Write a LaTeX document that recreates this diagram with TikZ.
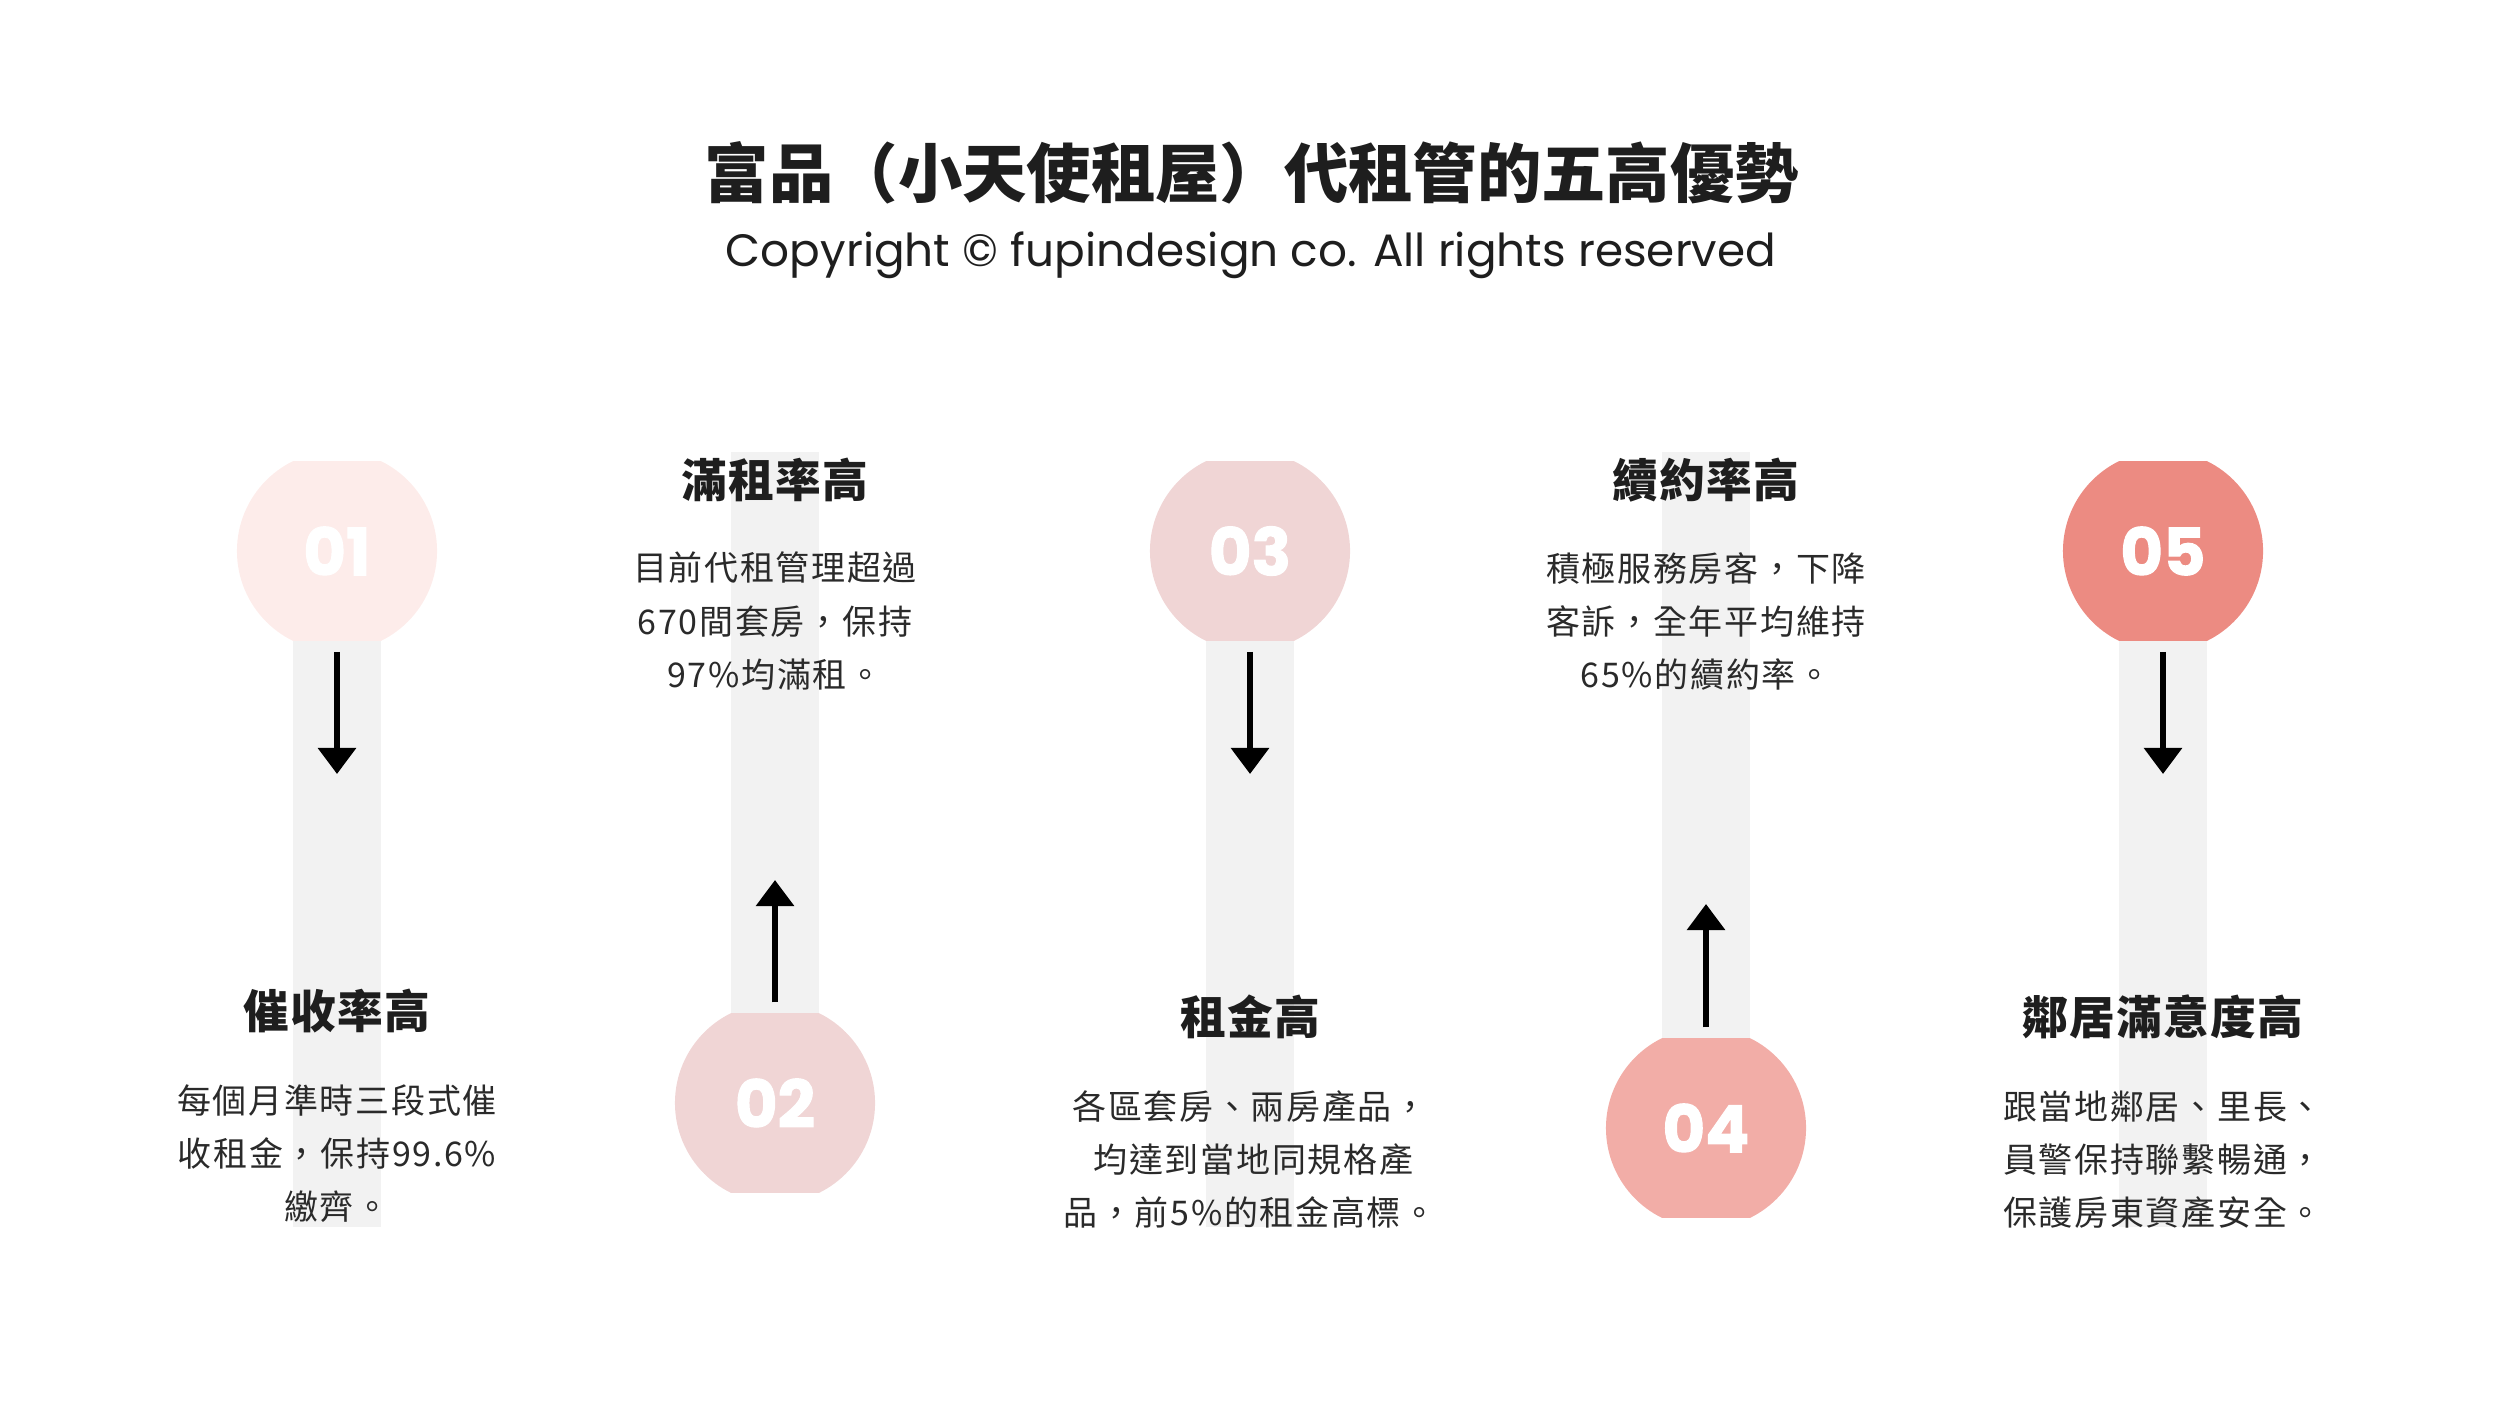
\documentclass[tikz,border=0pt]{standalone}
\usepackage{fontspec}
\setmainfont{Poppins}
\newfontfamily\cjk{Noto Sans CJK TC}
\newfontfamily\numfont{Poppins}[BoldFeatures={FakeBold=1.6}]
\usetikzlibrary{arrows.meta}
\definecolor{bargray}{HTML}{F2F2F2}
\definecolor{ink}{HTML}{1E1E1E}
\definecolor{inktext}{HTML}{2A2A2A}
\definecolor{dotA}{HTML}{FDECEA}
\definecolor{dotB}{HTML}{F0D5D5}
\definecolor{dotC}{HTML}{F0D5D5}
\definecolor{dotD}{HTML}{F2ADA7}
\definecolor{dotE}{HTML}{EC8B82}

\begin{document}
\begin{tikzpicture}[
  x=0.01cm, y=-0.01cm,
  bar/.style={fill=bargray},
  numdot/.style={minimum width=2cm, minimum height=1.78cm, inner sep=0pt,
                 text=white, font=\numfont\bfseries\fontsize{18.6pt}{20pt}\selectfont,
                 path picture={\fill[#1] (path picture bounding box.center) circle (1cm);}},
  head/.style={inner sep=0pt, text=ink,
               font=\cjk\bfseries\fontsize{13pt}{16pt}\selectfont\addfontfeatures{LetterSpace=3}},
  body/.style={inner sep=0pt, align=center, text=inktext,
               font=\cjk\fontsize{9.67pt}{15.08pt}\selectfont\addfontfeatures{LetterSpace=5}},
  flow/.style={-{Triangle[width=0.37cm,length=0.26cm]}, line width=1.7pt, shorten <=0.11cm}
]
\useasboundingbox (0,0) rectangle (2500,1406);

\node[inner sep=0pt, text=ink, font=\cjk\bfseries\fontsize{18.3pt}{22pt}\selectfont] (title) at (1252,173) {富品（小天使租屋）代租管的五高優勢};
\node[inner sep=0pt, text=ink, font=\fontsize{12.9pt}{15pt}\selectfont] (copy) at (1251,255) {Copyright © fupindesign co. All rights reserved};

\fill[bar] (293,551) rectangle (381,1227);
\fill[bar] (731,452) rectangle (819,1103);
\fill[bar] (1206,551) rectangle (1294,1227);
\fill[bar] (1662,452) rectangle (1750,1128);
\fill[bar] (2119,551) rectangle (2207,1227);

\node[numdot=dotA] (c1) at (337,551)  {01};
\node[numdot=dotB] (c2) at (775,1103) {02};
\node[numdot=dotC] (c3) at (1250,551) {03};
\node[numdot=dotD] (c4) at (1706,1128) {04};
\node[numdot=dotE] (c5) at (2163,551) {05};

\coordinate (e1) at (337,774);
\coordinate (e2) at (775,880);
\coordinate (e3) at (1250,774);
\coordinate (e4) at (1706,904);
\coordinate (e5) at (2163,774);
\draw[flow] (c1) -- (e1);
\draw[flow] (c2) -- (e2);
\draw[flow] (c3) -- (e3);
\draw[flow] (c4) -- (e4);
\draw[flow] (c5) -- (e5);

\node[head] (h1) at (337,1011)  {催收率高};
\node[head] (h2) at (775,480)   {滿租率高};
\node[head] (h3) at (1250,1017) {租金高};
\node[head] (h4) at (1706,480)  {續約率高};
\node[head] (h5) at (2163,1017) {鄰居滿意度高};

\node[body] (b1) at (337,1154)  {每個月準時三段式催\\收租金，保持99.6\%\\繳齊。};
\node[body] (b2) at (775,621)   {目前代租管理超過\\670間套房，保持\\97\%均滿租。};
\node[body] (b3) at (1250,1159) {各區套房、兩房產品，\\\hspace*{0.2em}均達到當地同規格產\\品，前5\%的租金高標。};
\node[body] (b4) at (1706,621)  {積極服務房客，下降\\客訴，全年平均維持\\65\%的續約率。};
\node[body] (b5) at (2163,1160) {跟當地鄰居、里長、\\員警保持聯繫暢通，\\保護房東資產安全。};
\end{tikzpicture}
\end{document}
